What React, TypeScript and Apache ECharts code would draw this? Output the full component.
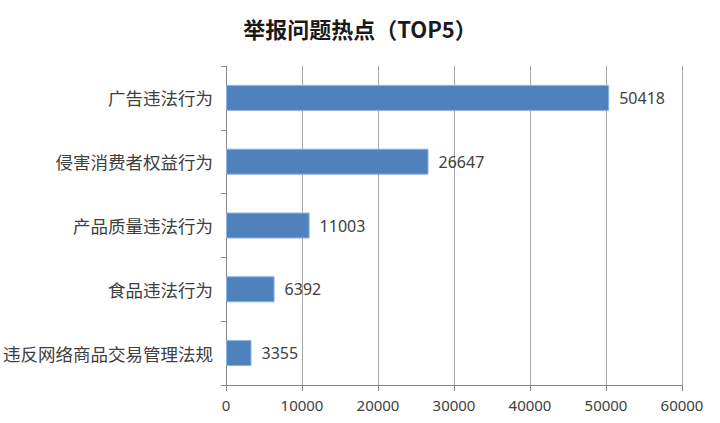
import React, { useEffect, useRef } from "react";
import * as echarts from "echarts";

const titleText = "举报问题热点（TOP5）";
const categories = [
  "广告违法行为",
  "侵害消费者权益行为",
  "产品质量违法行为",
  "食品违法行为",
  "违反网络商品交易管理法规",
];
const values = [50418, 26647, 11003, 6392, 3355];
const xMin = 0;
const xMax = 60000;
const xInterval = 10000;

export default function App() {
  const ref = useRef<HTMLDivElement>(null);
  useEffect(() => {
    if (!ref.current) return;
    const chart = echarts.init(ref.current, null, { renderer: "svg" });
    chart.setOption({
      animation: false,
      backgroundColor: "#ffffff",
      title: {
        text: titleText,
        left: 355,
        textAlign: "center",
        top: 12,
        textStyle: {
          fontSize: 22,
          fontWeight: "bold",
          color: "#1a1a1a",
          fontFamily: "Noto Sans CJK SC",
        },
      },
      grid: {
        left: 226,
        right: 38,
        top: 66,
        bottom: 38,
        containLabel: false,
        outerBoundsMode: "none",
      },
      xAxis: {
        type: "value",
        min: xMin,
        max: xMax,
        interval: xInterval,
        axisLine: { show: true, lineStyle: { color: "#868686", width: 1 } },
        axisTick: { show: true, length: 6, lineStyle: { color: "#868686" } },
        splitLine: { show: true, lineStyle: { color: "#a6a6a6", width: 1 } },
        axisLabel: {
          margin: 12,
          fontSize: 15,
          color: "#404040",
          fontFamily: "Noto Sans",
          formatter: (v: number) => String(v),
        },
      },
      yAxis: {
        type: "category",
        data: categories,
        inverse: true,
        axisLine: { show: true, lineStyle: { color: "#868686", width: 1 } },
        axisTick: { show: true, length: 5, lineStyle: { color: "#868686" } },
        axisLabel: {
          margin: 13,
          fontSize: 17.5,
          color: "#404040",
          fontFamily: "Noto Sans CJK SC",
        },
        splitLine: { show: false },
      },
      series: [
        {
          type: "bar",
          data: values,
          barWidth: 26,
          itemStyle: {
            color: "#4F81BD",
            borderColor: "#8DB3E2",
            borderWidth: 1,
          },
          label: {
            show: true,
            position: "right",
            distance: 10,
            fontSize: 16,
            color: "#404040",
            fontFamily: "Noto Sans",
          },
        },
      ],
    });
    return () => chart.dispose();
  }, []);
  return (
    <div
      ref={ref}
      style={{ position: "fixed", left: 0, top: 0, width: 720, height: 423 }}
    />
  );
}
